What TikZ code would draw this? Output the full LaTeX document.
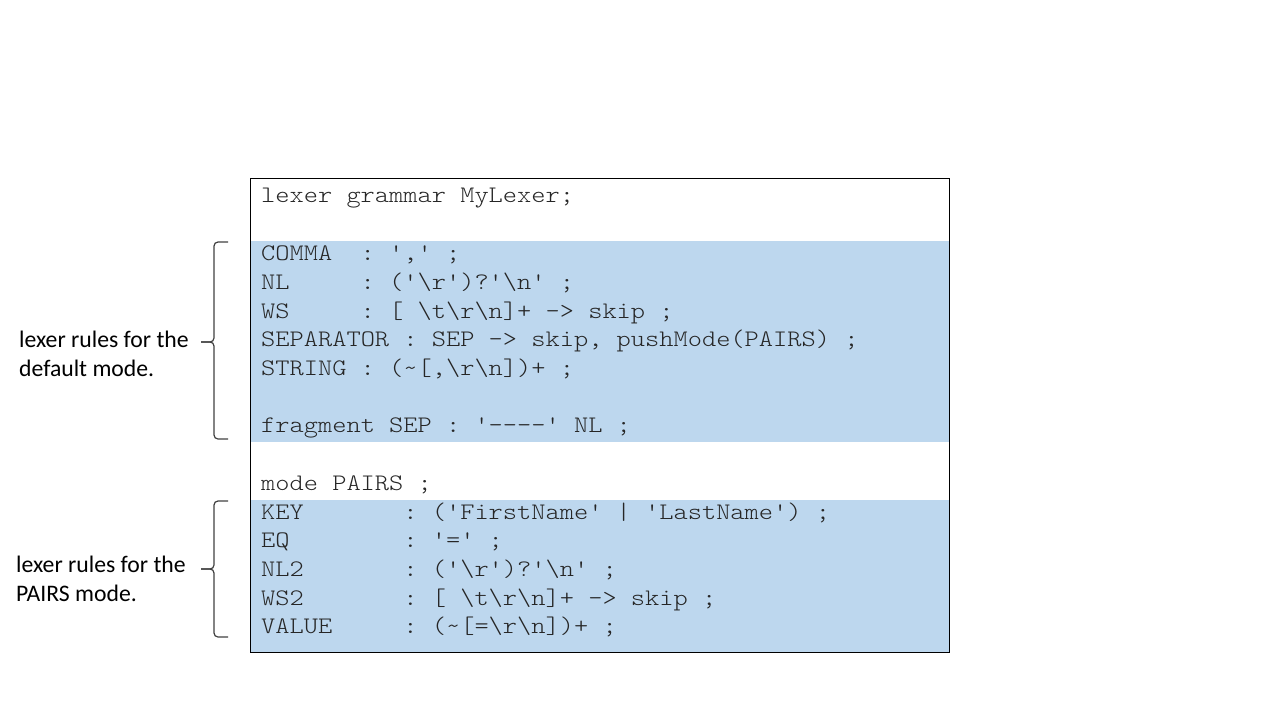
\documentclass[tikz,border=0pt]{standalone}
\usepackage{fontspec}
\setmonofont{lmmonolt10-regular.otf}[FakeStretch=1.143]
\newfontfamily\labfont{Carlito}
\definecolor{bandblue}{HTML}{BDD7EE}
\definecolor{codetext}{HTML}{262626}
\definecolor{bracegray}{HTML}{404040}
\newcommand{\bsl}{\textbackslash}
\newcommand{\tld}{\textasciitilde}
\tikzset{
  codeline/.style={anchor=base west, inner sep=0pt, text=codetext,
    font=\ttfamily\fontsize{23.7}{28.7}\selectfont},
  labline/.style={anchor=base west, inner sep=0pt, text=black,
    font=\labfont\fontsize{23.7}{29}\selectfont},
  bracepath/.style={draw=bracegray, line width=1.2pt, rounded corners=4pt},
}
\begin{document}
\begin{tikzpicture}[x=1pt,y=-1pt]
\useasboundingbox (0,0) rectangle (1280,720);
% bands
\fill[bandblue] (250.5,241) rectangle (948.5,441.5);
\fill[bandblue] (250.5,499.5) rectangle (948.5,652);
\draw[black, line width=1pt] (250,178.5) rectangle (949,652);
% code lines
\node[codeline] (l1) at (261,202) {lexer grammar MyLexer;};
\node[codeline] (l2) at (261,260.7) {COMMA~~: ',' ;};
\node[codeline] (l3) at (261,289.4) {NL~~~~~: ('\bsl r')?'\bsl n' ;};
\node[codeline] (l4) at (261,318.1) {WS~~~~~: [ \bsl t\bsl r\bsl n]+ -> skip ;};
\node[codeline] (l5) at (261,346.8) {SEPARATOR : SEP -> skip, pushMode(PAIRS) ;};
\node[codeline] (l6) at (261,375.5) {STRING : (\tld[,\bsl r\bsl n])+ ;};
\node[codeline] (l7) at (261,432.9) {fragment SEP : '----' NL ;};
\node[codeline] (l8) at (261,490.3) {mode PAIRS ;};
\node[codeline] (l9) at (261,519) {KEY~~~~~~~: ('FirstName' | 'LastName') ;};
\node[codeline] (l10) at (261,547.7) {EQ~~~~~~~~: '=' ;};
\node[codeline] (l11) at (261,576.4) {NL2~~~~~~~: ('\bsl r')?'\bsl n' ;};
\node[codeline] (l12) at (261,605.1) {WS2~~~~~~~: [ \bsl t\bsl r\bsl n]+ -> skip ;};
\node[codeline] (l13) at (261,633.8) {VALUE~~~~~: (\tld[=\bsl r\bsl n])+ ;};
% labels
\node[labline] (a1) at (19,347) {lexer rules for the};
\node[labline] (a2) at (19,376) {default mode.};
\node[labline] (b1) at (16,572) {lexer rules for the};
\node[labline] (b2) at (16,601) {PAIRS mode.};
% braces
\draw[bracepath] (228,242) -- (214,242) -- (214,342) -- (201,342);
\draw[bracepath] (201,342) -- (214,342) -- (214,439) -- (228,439);
\draw[bracepath] (228,501) -- (214,501) -- (214,569) -- (201,569);
\draw[bracepath] (201,569) -- (214,569) -- (214,637) -- (228,637);
\end{tikzpicture}
\end{document}
